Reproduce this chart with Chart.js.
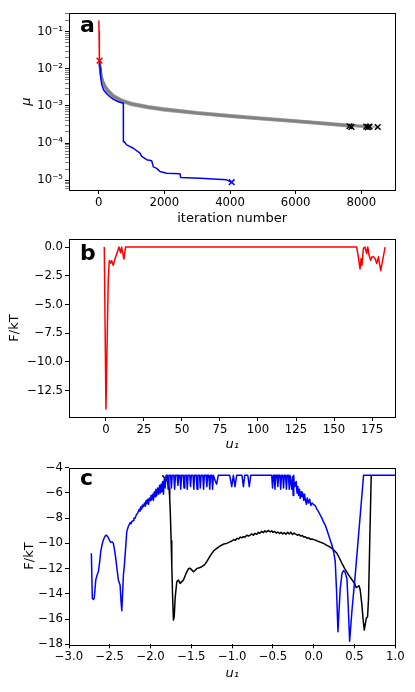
<!DOCTYPE html>
<html>
<head>
<meta charset="utf-8">
<script src="https://cdn.jsdelivr.net/npm/chart.js@4.4.1/dist/chart.umd.min.js"></script>
<style>
  body { margin: 0; background: #fff; width: 415px; height: 692px; position: relative; overflow: hidden; }
  canvas { position: absolute; left: 0; }
</style>
</head>
<body>
<canvas id="chartA" width="415" height="230" style="top:0px"></canvas>
<canvas id="chartB" width="415" height="228" style="top:230px"></canvas>
<canvas id="chartC" width="415" height="234" style="top:458px"></canvas>
<script>
// ---- panel a: mu vs iteration number ----
var redIter = [5, 10, 15, 20, 25];
var redMu = [0.2, 0.1, 0.05, 0.03, 0.0165];

var blueIter = [25, 40, 60, 90, 150, 250, 333, 450, 600, 750, 752, 771, 852, 1055, 1258, 1310, 1462, 1614, 1664, 1766, 1867, 2070, 2476, 2497, 3085, 3897, 4050];
var blueMu = [0.0165, 0.0105, 0.0062, 0.0038, 0.0027, 0.0021, 0.0018, 0.0015, 0.0013, 0.00118, 0.00011, 0.000111, 0.00009, 0.000073, 0.000054, 0.000044, 0.000036, 0.0000335, 0.000023, 0.000021, 0.0000173, 0.0000156, 0.000015, 0.000012, 0.0000113, 0.0000103, 0.0000089];

var grayIter = [25, 40, 70, 120, 200, 300, 450, 700, 1000, 1500, 2000, 3000, 4000, 5000, 6000, 7000];
var grayMu = [
  [0.016, 0.0115, 0.0072, 0.0048, 0.0034, 0.0026, 0.0019, 0.00145, 0.00118, 0.00097, 0.00084, 0.00067, 0.00056, 0.00047, 0.00040, 0.00034],
  [0.016, 0.0108, 0.0066, 0.0044, 0.0031, 0.0023, 0.00175, 0.00134, 0.00109, 0.00090, 0.00078, 0.00063, 0.00052, 0.00044, 0.00038, 0.00032],
  [0.016, 0.0112, 0.0070, 0.0046, 0.0033, 0.0025, 0.00185, 0.00141, 0.00114, 0.00094, 0.00081, 0.00065, 0.00054, 0.00046, 0.00040, 0.00034],
  [0.016, 0.0106, 0.0065, 0.0043, 0.0030, 0.00225, 0.0017, 0.00131, 0.00106, 0.00088, 0.00076, 0.00062, 0.00051, 0.00044, 0.00037, 0.00032],
  [0.016, 0.0118, 0.0074, 0.0049, 0.0035, 0.00265, 0.00195, 0.00148, 0.00120, 0.00099, 0.00085, 0.00068, 0.00056, 0.00048, 0.00041, 0.00035],
  [0.016, 0.0110, 0.0068, 0.0045, 0.0032, 0.0024, 0.0018, 0.00138, 0.00111, 0.00092, 0.00080, 0.00064, 0.00053, 0.00045, 0.00039, 0.00033]
];
var grayEndIter = [7640, 7700, 8150, 8200, 8250, 8500];
var grayEndMu = [0.000285, 0.000275, 0.000278, 0.00027, 0.00028, 0.000272];

var redCross = [[25, 0.0165]];
var blueCross = [[4050, 0.0000089]];

var aTicksX = [0, 2000, 4000, 6000, 8000];
var aTicksY = [1e-5, 1e-4, 1e-3, 1e-2, 1e-1];
var aTickLabelsY = ["10\u207B\u2075", "10\u207B\u2074", "10\u207B\u00B3", "10\u207B\u00B2", "10\u207B\u00B9"];

// ---- panel b: F/kT vs u1 ----
var bU = [-1.1, 0, 1.5, 2.2, 3.1, 3.8, 4.8, 5.9, 7.5, 8.6, 9.6, 10.3, 11.8, 12.9, 164.9, 166, 167.1, 167.8, 168.4, 169.3, 170.4, 171.5, 172.2, 173, 174.1, 175, 175.9, 177, 178.1, 179.2, 180.7, 181.4, 183.6];
var bF = [0, -14.1, -2.9, -1.18, -1.4, -1.18, -1.6, -1.03, -0.44, 0, -0.5, 0, -1.05, 0, 0, -0.85, -1.9, -1.0, -1.6, -0.12, 0, -0.56, 0, -0.7, -1.14, -0.85, -0.85, -1.0, -1.44, -0.85, -2.05, -1.58, 0];
var bTicksX = [0, 25, 50, 75, 100, 125, 150, 175];
var bTicksY = [0, -2.5, -5, -7.5, -10, -12.5];

// ---- panel c: F/kT vs u1 ----
var cBlue = [
  [-2.726, -10.79], [-2.714, -14.36], [-2.700, -14.45], [-2.690, -14.3], [-2.672, -12.9], [-2.655, -12.5], [-2.640, -12.25],
  [-2.625, -11.5], [-2.611, -10.66], [-2.595, -10.1], [-2.579, -9.73], [-2.560, -9.45], [-2.546, -9.34], [-2.530, -9.42],
  [-2.518, -9.55], [-2.500, -9.8], [-2.488, -9.92], [-2.470, -9.88], [-2.456, -10.0], [-2.440, -10.6], [-2.427, -11.19],
  [-2.410, -12.1], [-2.395, -12.9], [-2.374, -13.3], [-2.362, -14.6], [-2.353, -15.34], [-2.343, -14.0], [-2.333, -12.5],
  [-2.321, -11.72], [-2.305, -10.3], [-2.292, -9.07], [-2.275, -8.7], [-2.264, -8.54], [-2.250, -8.35], [-2.240, -8.45],
  [-2.231, -8.28], [-2.215, -8.2], [-2.205, -8.0], [-2.190, -8.01], [-2.175, -7.75], [-2.160, -7.6], [-2.150, -7.49],
  [-2.140, -7.3], [-2.130, -7.45], [-2.120, -7.1], [-2.110, -7.3], [-2.100, -6.95], [-2.088, -7.1], [-2.075, -6.8],
  [-2.065, -7.05], [-2.055, -6.6], [-2.047, -6.85], [-2.035, -6.5], [-2.025, -6.9], [-2.015, -6.4], [-2.005, -6.6],
  [-1.995, -6.2], [-1.985, -6.5], [-1.975, -6.1], [-1.965, -6.6], [-1.955, -5.9], [-1.945, -6.3], [-1.935, -5.7],
  [-1.924, -6.2], [-1.912, -5.6], [-1.900, -6.1], [-1.890, -5.4], [-1.880, -6.0], [-1.870, -5.3], [-1.862, -5.9],
  [-1.852, -5.1], [-1.842, -6.1], [-1.832, -4.9], [-1.822, -5.6],
  [-1.81, -4.6], [-1.795, -4.6], [-1.785, -5.7], [-1.775, -4.6], [-1.755, -4.6], [-1.745, -5.6], [-1.735, -4.6],
  [-1.715, -4.6], [-1.705, -5.7], [-1.695, -4.6], [-1.675, -4.6], [-1.665, -5.4], [-1.655, -4.6], [-1.64, -4.6],
  [-1.63, -5.7], [-1.62, -4.6], [-1.60, -4.6], [-1.59, -5.6], [-1.58, -4.6], [-1.56, -4.6], [-1.55, -5.7],
  [-1.54, -4.6], [-1.52, -4.6], [-1.51, -5.5], [-1.50, -4.6], [-1.48, -4.6], [-1.47, -5.7], [-1.46, -4.6],
  [-1.44, -4.6], [-1.43, -5.7], [-1.42, -4.6], [-1.40, -4.6], [-1.39, -5.6], [-1.38, -4.6], [-1.36, -4.6],
  [-1.35, -5.7], [-1.34, -4.6], [-1.32, -4.6], [-1.31, -5.5], [-1.30, -4.6], [-1.285, -4.6], [-1.275, -5.7],
  [-1.265, -4.6], [-1.25, -4.6], [-1.24, -5.7], [-1.23, -4.6],
  [-1.21, -5.0], [-1.19, -5.3], [-1.17, -4.6], [-1.03, -4.6], [-1.005, -5.5], [-0.985, -4.6], [-0.965, -5.5],
  [-0.945, -4.6], [-0.88, -4.6], [-0.862, -5.5], [-0.845, -4.6], [-0.808, -4.6], [-0.79, -5.5], [-0.772, -4.6],
  [-0.515, -4.6], [-0.505, -5.6], [-0.495, -4.6], [-0.485, -4.6], [-0.475, -5.7], [-0.465, -4.6], [-0.45, -4.6],
  [-0.44, -5.5], [-0.43, -4.6], [-0.415, -4.6], [-0.405, -5.7], [-0.395, -4.6], [-0.38, -4.6], [-0.37, -5.6],
  [-0.36, -4.6], [-0.345, -4.6], [-0.335, -5.7], [-0.325, -4.6], [-0.31, -4.6], [-0.30, -5.7], [-0.29, -4.6],
  [-0.28, -4.6], [-0.27, -5.7], [-0.26, -4.7], [-0.252, -6.2], [-0.245, -4.6], [-0.238, -5.5], [-0.23, -5.3],
  [-0.215, -5.1], [-0.205, -6.0], [-0.195, -5.5], [-0.185, -6.2], [-0.175, -5.7], [-0.166, -6.43], [-0.155, -5.9],
  [-0.145, -6.3], [-0.135, -6.0], [-0.122, -6.6], [-0.112, -6.1], [-0.104, -6.5], [-0.09, -6.9], [-0.08, -6.4],
  [-0.065, -6.8], [-0.05, -6.5], [-0.035, -7.0], [-0.02, -6.8], [-0.005, -6.9], [0.018, -7.0], [0.04, -7.3],
  [0.06, -7.5], [0.08, -7.75], [0.1, -8.0], [0.12, -8.3], [0.141, -8.55], [0.16, -8.9], [0.182, -9.34], [0.2, -9.7],
  [0.223, -10.13], [0.245, -10.7], [0.264, -11.45], [0.28, -13.8], [0.297, -17.0], [0.311, -15.2], [0.325, -13.6],
  [0.346, -12.4], [0.366, -12.15], [0.385, -12.3], [0.407, -12.8], [0.422, -14.8], [0.44, -17.75], [0.455, -16.5],
  [0.469, -15.3], [0.509, -12.5], [0.611, -4.6], [1.0, -4.6]
];
var cBlack = [
  [-1.855, -4.6], [-1.83, -4.8], [-1.801, -4.98], [-1.785, -5.3], [-1.773, -5.63], [-1.765, -6.5], [-1.757, -7.75],
  [-1.748, -9.8], [-1.74, -11.72], [-1.73, -14.2], [-1.72, -16.08], [-1.71, -15.8], [-1.699, -14.36], [-1.679, -13.04],
  [-1.66, -12.9], [-1.638, -13.17], [-1.62, -13.05], [-1.597, -12.9], [-1.575, -12.55], [-1.556, -12.25], [-1.535, -12.0],
  [-1.515, -11.98], [-1.495, -12.1], [-1.474, -12.25], [-1.455, -12.15], [-1.433, -11.98], [-1.41, -11.95], [-1.372, -11.85],
  [-1.34, -11.7], [-1.311, -11.45], [-1.28, -11.1], [-1.249, -10.79], [-1.22, -10.55], [-1.188, -10.39], [-1.16, -10.25],
  [-1.126, -10.13], [-1.10, -10.05], [-1.065, -10.0], [-1.035, -9.9], [-1.004, -9.81], [-0.98, -9.7], [-0.96, -9.75],
  [-0.942, -9.6], [-0.92, -9.65], [-0.90, -9.5], [-0.88, -9.55], [-0.861, -9.47], [-0.84, -9.5], [-0.82, -9.35],
  [-0.80, -9.42], [-0.779, -9.34], [-0.76, -9.25], [-0.74, -9.35], [-0.72, -9.2], [-0.697, -9.28], [-0.68, -9.12],
  [-0.66, -9.2], [-0.64, -9.05], [-0.616, -9.15], [-0.60, -9.0], [-0.58, -9.1], [-0.56, -8.98], [-0.534, -9.08],
  [-0.515, -9.0], [-0.50, -9.12], [-0.48, -9.05], [-0.46, -9.18], [-0.44, -9.1], [-0.42, -9.22], [-0.40, -9.12],
  [-0.38, -9.25], [-0.36, -9.15], [-0.34, -9.28], [-0.32, -9.12], [-0.30, -9.25], [-0.28, -9.1], [-0.26, -9.3],
  [-0.24, -9.18], [-0.227, -9.25], [-0.20, -9.35], [-0.18, -9.3], [-0.16, -9.42], [-0.14, -9.38], [-0.12, -9.5],
  [-0.104, -9.47], [-0.08, -9.6], [-0.06, -9.55], [-0.04, -9.68], [-0.02, -9.65], [0.0, -9.7], [0.018, -9.73],
  [0.04, -9.8], [0.06, -9.85], [0.08, -9.9], [0.10, -9.95], [0.12, -10.0], [0.141, -10.08], [0.16, -10.15],
  [0.18, -10.22], [0.20, -10.3], [0.223, -10.39], [0.25, -10.55], [0.284, -10.79], [0.31, -11.1], [0.346, -11.58],
  [0.38, -12.0], [0.427, -12.5], [0.46, -12.8], [0.5, -13.17], [0.52, -13.5], [0.542, -13.43], [0.555, -13.35],
  [0.57, -13.7], [0.591, -14.89], [0.605, -16.0], [0.62, -16.87], [0.632, -16.4], [0.644, -15.94], [0.66, -15.81],
  [0.672, -14.36], [0.688, -9.5], [0.705, -4.6]
];
var cTicksX = [-3, -2.5, -2, -1.5, -1, -0.5, 0, 0.5, 1];
var cTicksY = [-4, -6, -8, -10, -12, -14, -16, -18];

Chart.defaults.font.family = "'DejaVu Sans', sans-serif";
Chart.defaults.color = "#000";

function pts(xs, ys) {
  return xs.map(function (x, i) { return { x: x, y: ys[i] }; });
}
function pairs(arr) {
  return arr.map(function (p) { return { x: p[0], y: p[1] }; });
}
function num(v, d) {
  return (v < 0 ? "\u2212" : "") + Math.abs(v).toFixed(d);
}

// full box round the plot + bold panel letter
function frame(letter, dy) {
  return {
    id: "frame" + letter,
    afterDraw: function (chart) {
      var a = chart.chartArea, ctx = chart.ctx;
      ctx.save();
      ctx.strokeStyle = "#000";
      ctx.lineWidth = 1;
      ctx.strokeRect(Math.round(a.left) + 0.5, Math.round(a.top) + 0.5, Math.round(a.right - a.left), Math.round(a.bottom - a.top));
      ctx.fillStyle = "#000";
      ctx.font = "bold 22px 'DejaVu Sans'";
      ctx.textBaseline = "alphabetic";
      ctx.fillText(letter, a.left + 11, a.top + dy);
      ctx.restore();
    }
  };
}

function tickGrid() {
  return { display: true, drawOnChartArea: false, drawTicks: true, tickLength: 4, color: "#000", tickColor: "#000" };
}

function xAxis(min, max, ticks, dec, title, italic, pad, h) {
  return {
    type: "linear", position: "bottom", min: min, max: max,
    afterBuildTicks: function (s) { s.ticks = ticks.map(function (v) { return { value: v }; }); },
    afterFit: function (s) { s.height = h; },
    grid: tickGrid(),
    border: { display: false },
    ticks: { autoSkip: false, maxRotation: 0, padding: 2, font: { size: 11.7 }, callback: function (v) { return num(v, dec); } },
    title: { display: true, text: title, font: { size: 13, style: italic ? "italic" : "normal" }, padding: { top: 0, bottom: pad } }
  };
}

function yAxis(min, max, ticks, dec, title, italic, pad) {
  return {
    type: "linear", position: "left", min: min, max: max,
    afterBuildTicks: function (s) { s.ticks = ticks.map(function (v) { return { value: v }; }); },
    afterFit: function (s) { s.width = 69; },
    grid: tickGrid(),
    border: { display: false },
    ticks: { autoSkip: false, padding: 2, font: { size: 11.7 }, callback: function (v) { return num(v, dec); } },
    title: { display: true, text: title, font: { size: 13, style: italic ? "italic" : "normal" }, padding: { top: pad, bottom: 0 } }
  };
}

function line(data, color, width) {
  return { data: data, borderColor: color, borderWidth: width, pointRadius: 0, tension: 0, fill: false, showLine: true, borderJoinStyle: "round" };
}
function cross(data, color) {
  return { data: data, showLine: false, pointStyle: "crossRot", pointRadius: 4, borderColor: color, borderWidth: 1.5, backgroundColor: color };
}

var common = {
  responsive: false, animation: false, devicePixelRatio: 1,
  plugins: { legend: { display: false }, tooltip: { enabled: false } }
};

// ---- chart a ----
var aSets = [
  cross(pairs(redCross), "#ff0000"),
  cross(pairs(blueCross), "#0000ff"),
  cross(pts(grayEndIter, grayEndMu), "#000000"),
  line(pts(redIter, redMu), "#ff0000", 1.5),
  line(pts(blueIter, blueMu), "#0000ff", 1.5)
];
grayMu.forEach(function (vals, k) {
  var d = pts(grayIter, vals);
  d.push({ x: grayEndIter[k], y: grayEndMu[k] });
  aSets.push(line(d, "rgba(128,128,128,0.55)", 2.5));
});

var minorA = [];
aTicksY.forEach(function (m) {
  [2, 3, 4, 5, 6, 7, 8, 9].forEach(function (k) {
    if (m * k < 0.311) minorA.push({ value: m * k, major: false });
  });
});
[6, 7, 8, 9].forEach(function (k) { minorA.push({ value: k * 1e-6, major: false }); });

new Chart(document.getElementById("chartA").getContext("2d"), {
  type: "scatter",
  data: { datasets: aSets },
  options: Object.assign({}, common, {
    layout: { padding: { top: 13.3, right: 19.7, left: 0, bottom: 0 } },
    scales: {
      x: xAxis(-905, 9035, aTicksX, 0, "iteration number", false, 3.9, 40),
      y: {
        type: "logarithmic", position: "left", min: 5.5e-6, max: 0.311,
        afterBuildTicks: function (s) {
          s.ticks = aTicksY.map(function (v) { return { value: v, major: true }; }).concat(minorA);
        },
        afterFit: function (s) { s.width = 69; },
        grid: {
          display: true, drawOnChartArea: false, drawTicks: true, tickLength: 4,
          tickColor: function (c) { return c.tick && c.tick.major ? "#000" : "#444"; },
          tickWidth: function (c) { return c.tick && c.tick.major ? 1 : 0.7; }
        },
        border: { display: false },
        ticks: {
          autoSkip: false, padding: 2, font: { size: 11.7 },
          callback: function (v) {
            var i = aTicksY.findIndex(function (t) { return Math.abs(t - v) / t < 1e-6; });
            return i >= 0 ? aTickLabelsY[i] : "";
          }
        },
        title: { display: true, text: "\u03BC", font: { size: 13, style: "italic" }, padding: { top: 19, bottom: 0 } }
      }
    }
  }),
  plugins: [frame("a", 18.4)]
});

// ---- chart b ----
new Chart(document.getElementById("chartB").getContext("2d"), {
  type: "scatter",
  data: { datasets: [line(pts(bU, bF), "#ff0000", 1.5)] },
  options: Object.assign({}, common, {
    layout: { padding: { top: 8.3, right: 19.7, left: 0, bottom: 0 } },
    scales: {
      x: xAxis(-24.3, 190.3, bTicksX, 0, "u\u2081", true, 5.2, 41),
      y: yAxis(-14.8, 0.7, bTicksY, 1, "F/kT", false, 7)
    }
  }),
  plugins: [frame("b", 20.5)]
});

// ---- chart c ----
new Chart(document.getElementById("chartC").getContext("2d"), {
  type: "scatter",
  data: { datasets: [line(pairs(cBlue), "#0000ff", 1.5), line(pairs(cBlack), "#000000", 1.5)] },
  options: Object.assign({}, common, {
    layout: { padding: { top: 9.7, right: 19.7, left: 0, bottom: 0 } },
    scales: {
      x: xAxis(-3, 1, cTicksX, 1, "u\u2081", true, 10.9, 47.7),
      y: yAxis(-18, -4, cTicksY, 0, "F/kT", false, 22)
    }
  }),
  plugins: [frame("c", 17.3)]
});
</script>
</body>
</html>
